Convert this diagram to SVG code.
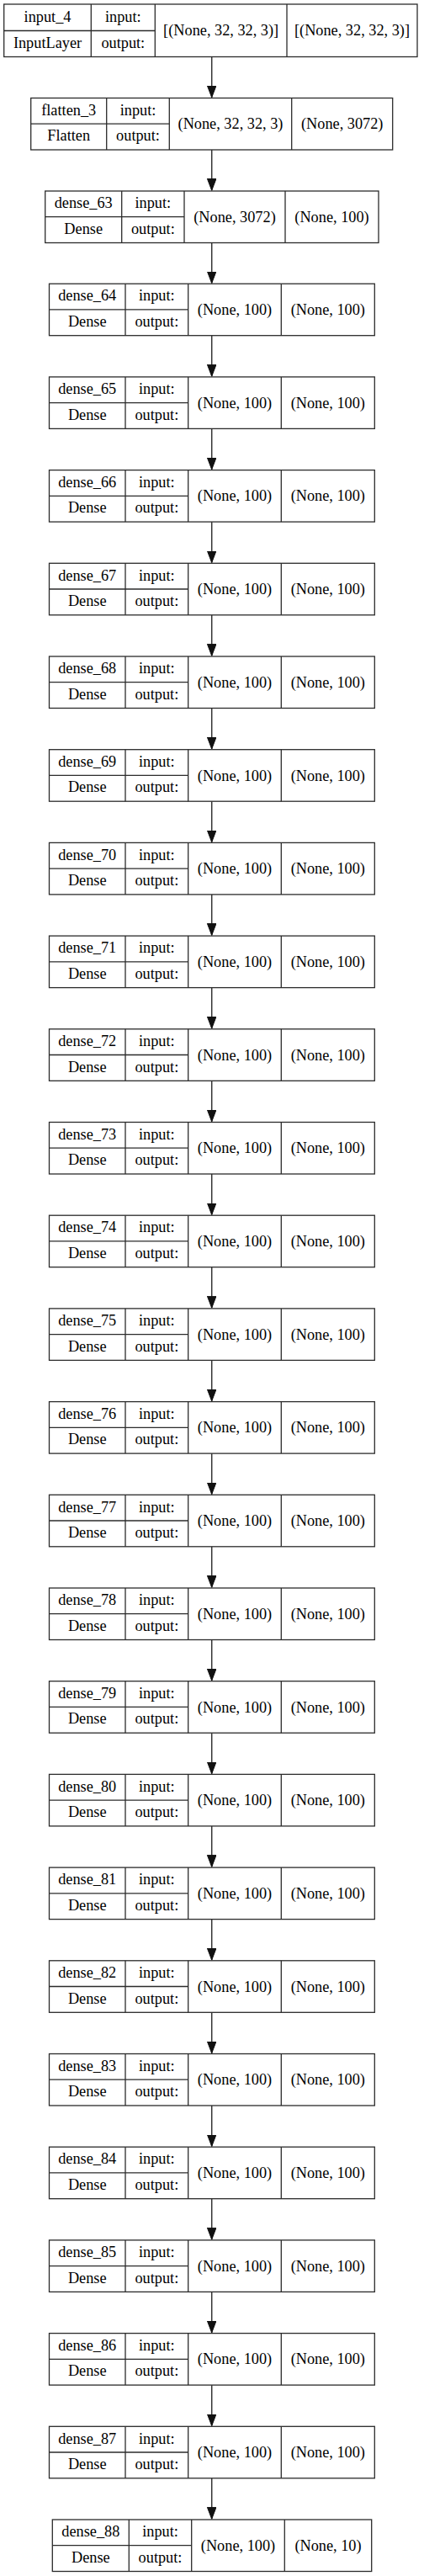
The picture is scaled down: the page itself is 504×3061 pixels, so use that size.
<svg xmlns="http://www.w3.org/2000/svg" width="504" height="3061" viewBox="0 0 504 3061">
<style>
.b{fill:#fff;stroke:#2b2b2b;stroke-width:1.3}
.l{stroke:#2b2b2b;stroke-width:1.3}
text{font-family:"Liberation Serif","Times New Roman",serif;font-size:18.3px;fill:#000;text-anchor:middle}
.e{stroke:#333;stroke-width:1.5;fill:none;marker-end:url(#ah)}
</style>
<defs>
<marker id="ah" markerUnits="userSpaceOnUse" markerWidth="16" markerHeight="12" refX="14" refY="5.3" orient="auto"><path d="M0,0 L14,5.3 L0,10.6 z" fill="#111" stroke="#111" stroke-width="1"/></marker>
</defs>
<rect width="504" height="3061" fill="#fff"/>
<g id="connectors">
<line class="e" x1="251.7" y1="67.5" x2="251.7" y2="115.8"/>
<line class="e" x1="251.7" y1="178" x2="251.7" y2="226.3"/>
<line class="e" x1="251.7" y1="288.5" x2="251.7" y2="336.5"/>
<line class="e" x1="251.7" y1="398.7" x2="251.7" y2="447.2"/>
<line class="e" x1="251.7" y1="509.4" x2="251.7" y2="557.9"/>
<line class="e" x1="251.7" y1="620.1" x2="251.7" y2="668.6"/>
<line class="e" x1="251.7" y1="730.8" x2="251.7" y2="779.3"/>
<line class="e" x1="251.7" y1="841.5" x2="251.7" y2="890.0"/>
<line class="e" x1="251.7" y1="952.2" x2="251.7" y2="1000.7"/>
<line class="e" x1="251.7" y1="1062.9" x2="251.7" y2="1111.4"/>
<line class="e" x1="251.7" y1="1173.6" x2="251.7" y2="1222.1"/>
<line class="e" x1="251.7" y1="1284.3" x2="251.7" y2="1332.8"/>
<line class="e" x1="251.7" y1="1395.0" x2="251.7" y2="1443.5"/>
<line class="e" x1="251.7" y1="1505.7" x2="251.7" y2="1554.2"/>
<line class="e" x1="251.7" y1="1616.4" x2="251.7" y2="1664.9"/>
<line class="e" x1="251.7" y1="1727.1" x2="251.7" y2="1775.6"/>
<line class="e" x1="251.7" y1="1837.8" x2="251.7" y2="1886.3"/>
<line class="e" x1="251.7" y1="1948.5" x2="251.7" y2="1997.0"/>
<line class="e" x1="251.7" y1="2059.2" x2="251.7" y2="2107.7"/>
<line class="e" x1="251.7" y1="2169.9" x2="251.7" y2="2218.4"/>
<line class="e" x1="251.7" y1="2280.6" x2="251.7" y2="2329.1"/>
<line class="e" x1="251.7" y1="2391.3" x2="251.7" y2="2439.8"/>
<line class="e" x1="251.7" y1="2502.0" x2="251.7" y2="2550.5"/>
<line class="e" x1="251.7" y1="2612.7" x2="251.7" y2="2661.2"/>
<line class="e" x1="251.7" y1="2723.4" x2="251.7" y2="2771.9"/>
<line class="e" x1="251.7" y1="2834.1" x2="251.7" y2="2882.6"/>
<line class="e" x1="251.7" y1="2944.8" x2="251.7" y2="2993.3"/>
</g>
<g id="input_4" transform="translate(0,5)">
<rect class="b" x="4.7" y="0" width="491.3" height="62.5"/>
<line class="l" x1="108.3" y1="0" x2="108.3" y2="62.5"/><line class="l" x1="184.3" y1="0" x2="184.3" y2="62.5"/><line class="l" x1="341" y1="0" x2="341" y2="62.5"/><line class="l" x1="4.7" y1="31.5" x2="184.3" y2="31.5"/>
<text x="56.5" y="20.8">input_4</text><text x="56.5" y="51.5">InputLayer</text><text x="146.3" y="20.8">input:</text><text x="146.3" y="51.5">output:</text><text x="262.65" y="37.3">[(None, 32, 32, 3)]</text><text x="418.5" y="37.3">[(None, 32, 32, 3)]</text>
</g>
<g id="flatten_3" transform="translate(0,116.5)">
<rect class="b" x="36.7" y="0" width="430" height="61.5"/>
<line class="l" x1="126.7" y1="0" x2="126.7" y2="61.5"/><line class="l" x1="201.3" y1="0" x2="201.3" y2="61.5"/><line class="l" x1="346.7" y1="0" x2="346.7" y2="61.5"/><line class="l" x1="36.7" y1="30.7" x2="201.3" y2="30.7"/>
<text x="81.7" y="20.3">flatten_3</text><text x="81.7" y="50.8">Flatten</text><text x="164" y="20.3">input:</text><text x="164" y="50.8">output:</text><text x="274" y="36.9">(None, 32, 32, 3)</text><text x="406.7" y="36.9">(None, 3072)</text>
</g>
<g id="dense_63" transform="translate(0,227)">
<rect class="b" x="53.7" y="0" width="396.3" height="61.5"/>
<line class="l" x1="144.7" y1="0" x2="144.7" y2="61.5"/><line class="l" x1="219" y1="0" x2="219" y2="61.5"/><line class="l" x1="339" y1="0" x2="339" y2="61.5"/><line class="l" x1="53.7" y1="30.7" x2="219" y2="30.7"/>
<text x="99.2" y="20.3">dense_63</text><text x="99.2" y="50.8">Dense</text><text x="181.85" y="20.3">input:</text><text x="181.85" y="50.8">output:</text><text x="279" y="36.9">(None, 3072)</text><text x="394.5" y="36.9">(None, 100)</text>
</g>
<g id="dense_64" transform="translate(0,337.2)"><rect class="b" x="58.5" y="0" width="386.8" height="61.5"/><line class="l" x1="149" y1="0" x2="149" y2="61.5"/><line class="l" x1="223.7" y1="0" x2="223.7" y2="61.5"/><line class="l" x1="334.3" y1="0" x2="334.3" y2="61.5"/><line class="l" x1="58.5" y1="30.7" x2="223.7" y2="30.7"/><text x="103.75" y="20.3">dense_64</text><text x="103.75" y="50.8">Dense</text><text x="186.35" y="20.3">input:</text><text x="186.35" y="50.8">output:</text><text x="279" y="36.9">(None, 100)</text><text x="389.8" y="36.9">(None, 100)</text></g>
<g id="dense_65" transform="translate(0,447.9)"><rect class="b" x="58.5" y="0" width="386.8" height="61.5"/><line class="l" x1="149" y1="0" x2="149" y2="61.5"/><line class="l" x1="223.7" y1="0" x2="223.7" y2="61.5"/><line class="l" x1="334.3" y1="0" x2="334.3" y2="61.5"/><line class="l" x1="58.5" y1="30.7" x2="223.7" y2="30.7"/><text x="103.75" y="20.3">dense_65</text><text x="103.75" y="50.8">Dense</text><text x="186.35" y="20.3">input:</text><text x="186.35" y="50.8">output:</text><text x="279" y="36.9">(None, 100)</text><text x="389.8" y="36.9">(None, 100)</text></g>
<g id="dense_66" transform="translate(0,558.6)"><rect class="b" x="58.5" y="0" width="386.8" height="61.5"/><line class="l" x1="149" y1="0" x2="149" y2="61.5"/><line class="l" x1="223.7" y1="0" x2="223.7" y2="61.5"/><line class="l" x1="334.3" y1="0" x2="334.3" y2="61.5"/><line class="l" x1="58.5" y1="30.7" x2="223.7" y2="30.7"/><text x="103.75" y="20.3">dense_66</text><text x="103.75" y="50.8">Dense</text><text x="186.35" y="20.3">input:</text><text x="186.35" y="50.8">output:</text><text x="279" y="36.9">(None, 100)</text><text x="389.8" y="36.9">(None, 100)</text></g>
<g id="dense_67" transform="translate(0,669.3)"><rect class="b" x="58.5" y="0" width="386.8" height="61.5"/><line class="l" x1="149" y1="0" x2="149" y2="61.5"/><line class="l" x1="223.7" y1="0" x2="223.7" y2="61.5"/><line class="l" x1="334.3" y1="0" x2="334.3" y2="61.5"/><line class="l" x1="58.5" y1="30.7" x2="223.7" y2="30.7"/><text x="103.75" y="20.3">dense_67</text><text x="103.75" y="50.8">Dense</text><text x="186.35" y="20.3">input:</text><text x="186.35" y="50.8">output:</text><text x="279" y="36.9">(None, 100)</text><text x="389.8" y="36.9">(None, 100)</text></g>
<g id="dense_68" transform="translate(0,780.0)"><rect class="b" x="58.5" y="0" width="386.8" height="61.5"/><line class="l" x1="149" y1="0" x2="149" y2="61.5"/><line class="l" x1="223.7" y1="0" x2="223.7" y2="61.5"/><line class="l" x1="334.3" y1="0" x2="334.3" y2="61.5"/><line class="l" x1="58.5" y1="30.7" x2="223.7" y2="30.7"/><text x="103.75" y="20.3">dense_68</text><text x="103.75" y="50.8">Dense</text><text x="186.35" y="20.3">input:</text><text x="186.35" y="50.8">output:</text><text x="279" y="36.9">(None, 100)</text><text x="389.8" y="36.9">(None, 100)</text></g>
<g id="dense_69" transform="translate(0,890.7)"><rect class="b" x="58.5" y="0" width="386.8" height="61.5"/><line class="l" x1="149" y1="0" x2="149" y2="61.5"/><line class="l" x1="223.7" y1="0" x2="223.7" y2="61.5"/><line class="l" x1="334.3" y1="0" x2="334.3" y2="61.5"/><line class="l" x1="58.5" y1="30.7" x2="223.7" y2="30.7"/><text x="103.75" y="20.3">dense_69</text><text x="103.75" y="50.8">Dense</text><text x="186.35" y="20.3">input:</text><text x="186.35" y="50.8">output:</text><text x="279" y="36.9">(None, 100)</text><text x="389.8" y="36.9">(None, 100)</text></g>
<g id="dense_70" transform="translate(0,1001.4)"><rect class="b" x="58.5" y="0" width="386.8" height="61.5"/><line class="l" x1="149" y1="0" x2="149" y2="61.5"/><line class="l" x1="223.7" y1="0" x2="223.7" y2="61.5"/><line class="l" x1="334.3" y1="0" x2="334.3" y2="61.5"/><line class="l" x1="58.5" y1="30.7" x2="223.7" y2="30.7"/><text x="103.75" y="20.3">dense_70</text><text x="103.75" y="50.8">Dense</text><text x="186.35" y="20.3">input:</text><text x="186.35" y="50.8">output:</text><text x="279" y="36.9">(None, 100)</text><text x="389.8" y="36.9">(None, 100)</text></g>
<g id="dense_71" transform="translate(0,1112.1)"><rect class="b" x="58.5" y="0" width="386.8" height="61.5"/><line class="l" x1="149" y1="0" x2="149" y2="61.5"/><line class="l" x1="223.7" y1="0" x2="223.7" y2="61.5"/><line class="l" x1="334.3" y1="0" x2="334.3" y2="61.5"/><line class="l" x1="58.5" y1="30.7" x2="223.7" y2="30.7"/><text x="103.75" y="20.3">dense_71</text><text x="103.75" y="50.8">Dense</text><text x="186.35" y="20.3">input:</text><text x="186.35" y="50.8">output:</text><text x="279" y="36.9">(None, 100)</text><text x="389.8" y="36.9">(None, 100)</text></g>
<g id="dense_72" transform="translate(0,1222.8)"><rect class="b" x="58.5" y="0" width="386.8" height="61.5"/><line class="l" x1="149" y1="0" x2="149" y2="61.5"/><line class="l" x1="223.7" y1="0" x2="223.7" y2="61.5"/><line class="l" x1="334.3" y1="0" x2="334.3" y2="61.5"/><line class="l" x1="58.5" y1="30.7" x2="223.7" y2="30.7"/><text x="103.75" y="20.3">dense_72</text><text x="103.75" y="50.8">Dense</text><text x="186.35" y="20.3">input:</text><text x="186.35" y="50.8">output:</text><text x="279" y="36.9">(None, 100)</text><text x="389.8" y="36.9">(None, 100)</text></g>
<g id="dense_73" transform="translate(0,1333.5)"><rect class="b" x="58.5" y="0" width="386.8" height="61.5"/><line class="l" x1="149" y1="0" x2="149" y2="61.5"/><line class="l" x1="223.7" y1="0" x2="223.7" y2="61.5"/><line class="l" x1="334.3" y1="0" x2="334.3" y2="61.5"/><line class="l" x1="58.5" y1="30.7" x2="223.7" y2="30.7"/><text x="103.75" y="20.3">dense_73</text><text x="103.75" y="50.8">Dense</text><text x="186.35" y="20.3">input:</text><text x="186.35" y="50.8">output:</text><text x="279" y="36.9">(None, 100)</text><text x="389.8" y="36.9">(None, 100)</text></g>
<g id="dense_74" transform="translate(0,1444.2)"><rect class="b" x="58.5" y="0" width="386.8" height="61.5"/><line class="l" x1="149" y1="0" x2="149" y2="61.5"/><line class="l" x1="223.7" y1="0" x2="223.7" y2="61.5"/><line class="l" x1="334.3" y1="0" x2="334.3" y2="61.5"/><line class="l" x1="58.5" y1="30.7" x2="223.7" y2="30.7"/><text x="103.75" y="20.3">dense_74</text><text x="103.75" y="50.8">Dense</text><text x="186.35" y="20.3">input:</text><text x="186.35" y="50.8">output:</text><text x="279" y="36.9">(None, 100)</text><text x="389.8" y="36.9">(None, 100)</text></g>
<g id="dense_75" transform="translate(0,1554.9)"><rect class="b" x="58.5" y="0" width="386.8" height="61.5"/><line class="l" x1="149" y1="0" x2="149" y2="61.5"/><line class="l" x1="223.7" y1="0" x2="223.7" y2="61.5"/><line class="l" x1="334.3" y1="0" x2="334.3" y2="61.5"/><line class="l" x1="58.5" y1="30.7" x2="223.7" y2="30.7"/><text x="103.75" y="20.3">dense_75</text><text x="103.75" y="50.8">Dense</text><text x="186.35" y="20.3">input:</text><text x="186.35" y="50.8">output:</text><text x="279" y="36.9">(None, 100)</text><text x="389.8" y="36.9">(None, 100)</text></g>
<g id="dense_76" transform="translate(0,1665.6)"><rect class="b" x="58.5" y="0" width="386.8" height="61.5"/><line class="l" x1="149" y1="0" x2="149" y2="61.5"/><line class="l" x1="223.7" y1="0" x2="223.7" y2="61.5"/><line class="l" x1="334.3" y1="0" x2="334.3" y2="61.5"/><line class="l" x1="58.5" y1="30.7" x2="223.7" y2="30.7"/><text x="103.75" y="20.3">dense_76</text><text x="103.75" y="50.8">Dense</text><text x="186.35" y="20.3">input:</text><text x="186.35" y="50.8">output:</text><text x="279" y="36.9">(None, 100)</text><text x="389.8" y="36.9">(None, 100)</text></g>
<g id="dense_77" transform="translate(0,1776.3)"><rect class="b" x="58.5" y="0" width="386.8" height="61.5"/><line class="l" x1="149" y1="0" x2="149" y2="61.5"/><line class="l" x1="223.7" y1="0" x2="223.7" y2="61.5"/><line class="l" x1="334.3" y1="0" x2="334.3" y2="61.5"/><line class="l" x1="58.5" y1="30.7" x2="223.7" y2="30.7"/><text x="103.75" y="20.3">dense_77</text><text x="103.75" y="50.8">Dense</text><text x="186.35" y="20.3">input:</text><text x="186.35" y="50.8">output:</text><text x="279" y="36.9">(None, 100)</text><text x="389.8" y="36.9">(None, 100)</text></g>
<g id="dense_78" transform="translate(0,1887.0)"><rect class="b" x="58.5" y="0" width="386.8" height="61.5"/><line class="l" x1="149" y1="0" x2="149" y2="61.5"/><line class="l" x1="223.7" y1="0" x2="223.7" y2="61.5"/><line class="l" x1="334.3" y1="0" x2="334.3" y2="61.5"/><line class="l" x1="58.5" y1="30.7" x2="223.7" y2="30.7"/><text x="103.75" y="20.3">dense_78</text><text x="103.75" y="50.8">Dense</text><text x="186.35" y="20.3">input:</text><text x="186.35" y="50.8">output:</text><text x="279" y="36.9">(None, 100)</text><text x="389.8" y="36.9">(None, 100)</text></g>
<g id="dense_79" transform="translate(0,1997.7)"><rect class="b" x="58.5" y="0" width="386.8" height="61.5"/><line class="l" x1="149" y1="0" x2="149" y2="61.5"/><line class="l" x1="223.7" y1="0" x2="223.7" y2="61.5"/><line class="l" x1="334.3" y1="0" x2="334.3" y2="61.5"/><line class="l" x1="58.5" y1="30.7" x2="223.7" y2="30.7"/><text x="103.75" y="20.3">dense_79</text><text x="103.75" y="50.8">Dense</text><text x="186.35" y="20.3">input:</text><text x="186.35" y="50.8">output:</text><text x="279" y="36.9">(None, 100)</text><text x="389.8" y="36.9">(None, 100)</text></g>
<g id="dense_80" transform="translate(0,2108.4)"><rect class="b" x="58.5" y="0" width="386.8" height="61.5"/><line class="l" x1="149" y1="0" x2="149" y2="61.5"/><line class="l" x1="223.7" y1="0" x2="223.7" y2="61.5"/><line class="l" x1="334.3" y1="0" x2="334.3" y2="61.5"/><line class="l" x1="58.5" y1="30.7" x2="223.7" y2="30.7"/><text x="103.75" y="20.3">dense_80</text><text x="103.75" y="50.8">Dense</text><text x="186.35" y="20.3">input:</text><text x="186.35" y="50.8">output:</text><text x="279" y="36.9">(None, 100)</text><text x="389.8" y="36.9">(None, 100)</text></g>
<g id="dense_81" transform="translate(0,2219.1)"><rect class="b" x="58.5" y="0" width="386.8" height="61.5"/><line class="l" x1="149" y1="0" x2="149" y2="61.5"/><line class="l" x1="223.7" y1="0" x2="223.7" y2="61.5"/><line class="l" x1="334.3" y1="0" x2="334.3" y2="61.5"/><line class="l" x1="58.5" y1="30.7" x2="223.7" y2="30.7"/><text x="103.75" y="20.3">dense_81</text><text x="103.75" y="50.8">Dense</text><text x="186.35" y="20.3">input:</text><text x="186.35" y="50.8">output:</text><text x="279" y="36.9">(None, 100)</text><text x="389.8" y="36.9">(None, 100)</text></g>
<g id="dense_82" transform="translate(0,2329.8)"><rect class="b" x="58.5" y="0" width="386.8" height="61.5"/><line class="l" x1="149" y1="0" x2="149" y2="61.5"/><line class="l" x1="223.7" y1="0" x2="223.7" y2="61.5"/><line class="l" x1="334.3" y1="0" x2="334.3" y2="61.5"/><line class="l" x1="58.5" y1="30.7" x2="223.7" y2="30.7"/><text x="103.75" y="20.3">dense_82</text><text x="103.75" y="50.8">Dense</text><text x="186.35" y="20.3">input:</text><text x="186.35" y="50.8">output:</text><text x="279" y="36.9">(None, 100)</text><text x="389.8" y="36.9">(None, 100)</text></g>
<g id="dense_83" transform="translate(0,2440.5)"><rect class="b" x="58.5" y="0" width="386.8" height="61.5"/><line class="l" x1="149" y1="0" x2="149" y2="61.5"/><line class="l" x1="223.7" y1="0" x2="223.7" y2="61.5"/><line class="l" x1="334.3" y1="0" x2="334.3" y2="61.5"/><line class="l" x1="58.5" y1="30.7" x2="223.7" y2="30.7"/><text x="103.75" y="20.3">dense_83</text><text x="103.75" y="50.8">Dense</text><text x="186.35" y="20.3">input:</text><text x="186.35" y="50.8">output:</text><text x="279" y="36.9">(None, 100)</text><text x="389.8" y="36.9">(None, 100)</text></g>
<g id="dense_84" transform="translate(0,2551.2)"><rect class="b" x="58.5" y="0" width="386.8" height="61.5"/><line class="l" x1="149" y1="0" x2="149" y2="61.5"/><line class="l" x1="223.7" y1="0" x2="223.7" y2="61.5"/><line class="l" x1="334.3" y1="0" x2="334.3" y2="61.5"/><line class="l" x1="58.5" y1="30.7" x2="223.7" y2="30.7"/><text x="103.75" y="20.3">dense_84</text><text x="103.75" y="50.8">Dense</text><text x="186.35" y="20.3">input:</text><text x="186.35" y="50.8">output:</text><text x="279" y="36.9">(None, 100)</text><text x="389.8" y="36.9">(None, 100)</text></g>
<g id="dense_85" transform="translate(0,2661.9)"><rect class="b" x="58.5" y="0" width="386.8" height="61.5"/><line class="l" x1="149" y1="0" x2="149" y2="61.5"/><line class="l" x1="223.7" y1="0" x2="223.7" y2="61.5"/><line class="l" x1="334.3" y1="0" x2="334.3" y2="61.5"/><line class="l" x1="58.5" y1="30.7" x2="223.7" y2="30.7"/><text x="103.75" y="20.3">dense_85</text><text x="103.75" y="50.8">Dense</text><text x="186.35" y="20.3">input:</text><text x="186.35" y="50.8">output:</text><text x="279" y="36.9">(None, 100)</text><text x="389.8" y="36.9">(None, 100)</text></g>
<g id="dense_86" transform="translate(0,2772.6)"><rect class="b" x="58.5" y="0" width="386.8" height="61.5"/><line class="l" x1="149" y1="0" x2="149" y2="61.5"/><line class="l" x1="223.7" y1="0" x2="223.7" y2="61.5"/><line class="l" x1="334.3" y1="0" x2="334.3" y2="61.5"/><line class="l" x1="58.5" y1="30.7" x2="223.7" y2="30.7"/><text x="103.75" y="20.3">dense_86</text><text x="103.75" y="50.8">Dense</text><text x="186.35" y="20.3">input:</text><text x="186.35" y="50.8">output:</text><text x="279" y="36.9">(None, 100)</text><text x="389.8" y="36.9">(None, 100)</text></g>
<g id="dense_87" transform="translate(0,2883.3)"><rect class="b" x="58.5" y="0" width="386.8" height="61.5"/><line class="l" x1="149" y1="0" x2="149" y2="61.5"/><line class="l" x1="223.7" y1="0" x2="223.7" y2="61.5"/><line class="l" x1="334.3" y1="0" x2="334.3" y2="61.5"/><line class="l" x1="58.5" y1="30.7" x2="223.7" y2="30.7"/><text x="103.75" y="20.3">dense_87</text><text x="103.75" y="50.8">Dense</text><text x="186.35" y="20.3">input:</text><text x="186.35" y="50.8">output:</text><text x="279" y="36.9">(None, 100)</text><text x="389.8" y="36.9">(None, 100)</text></g>
<g id="dense_88" transform="translate(0,2994.0)"><rect class="b" x="62.3" y="0" width="379.4" height="61.5"/><line class="l" x1="153.3" y1="0" x2="153.3" y2="61.5"/><line class="l" x1="227.7" y1="0" x2="227.7" y2="61.5"/><line class="l" x1="338.3" y1="0" x2="338.3" y2="61.5"/><line class="l" x1="62.3" y1="30.7" x2="227.7" y2="30.7"/><text x="107.8" y="20.3">dense_88</text><text x="107.8" y="50.8">Dense</text><text x="190.5" y="20.3">input:</text><text x="190.5" y="50.8">output:</text><text x="283" y="36.9">(None, 100)</text><text x="390" y="36.9">(None, 10)</text></g>
</svg>
